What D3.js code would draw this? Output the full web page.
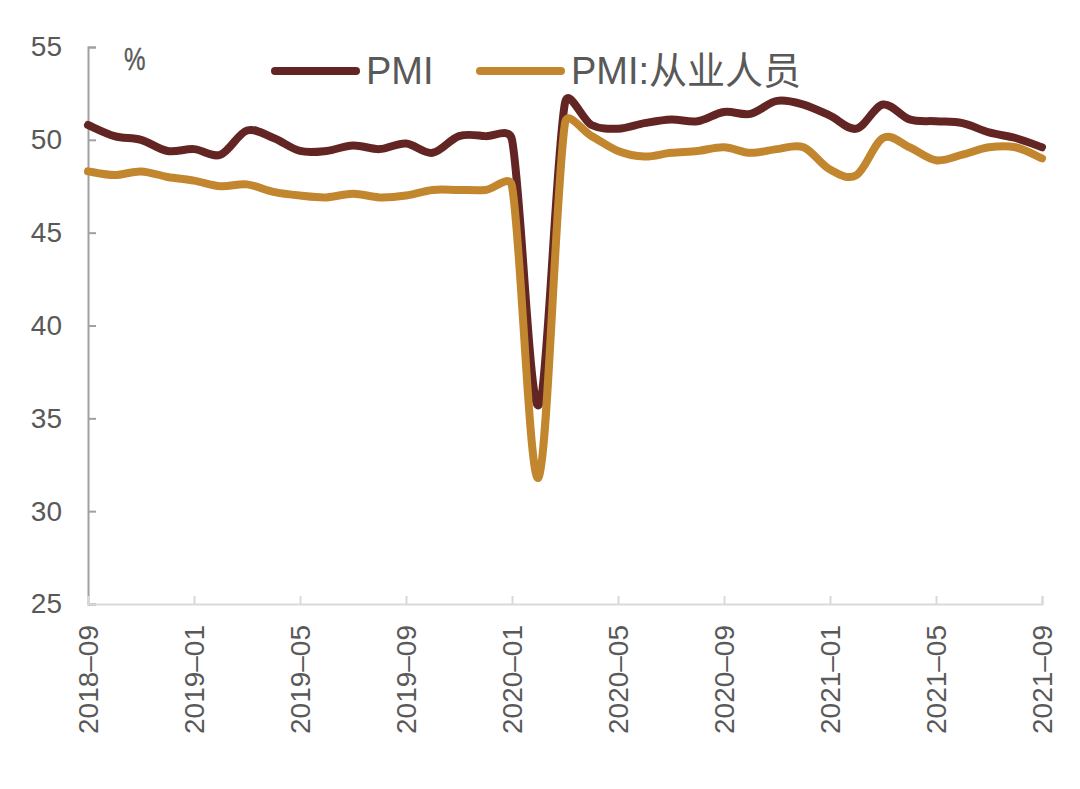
<!DOCTYPE html>
<html><head><meta charset="utf-8">
<script src="https://cdn.jsdelivr.net/npm/d3@7"></script>
<style>
html,body{margin:0;padding:0;background:#fff;}
text{font-family:"Liberation Sans",Arial,"Noto Sans CJK SC",sans-serif;fill:#595959;}
</style></head>
<body>
<svg id="c" width="1080" height="789"></svg>
<script>
const months = ["2018-09","2018-10","2018-11","2018-12","2019-01","2019-02","2019-03","2019-04","2019-05","2019-06","2019-07","2019-08","2019-09","2019-10","2019-11","2019-12","2020-01","2020-02","2020-03","2020-04","2020-05","2020-06","2020-07","2020-08","2020-09","2020-10","2020-11","2020-12","2021-01","2021-02","2021-03","2021-04","2021-05","2021-06","2021-07","2021-08","2021-09"];
const pmi = [50.8,50.2,50.0,49.4,49.5,49.2,50.5,50.1,49.4,49.4,49.7,49.5,49.8,49.3,50.2,50.2,50.0,35.7,52.0,50.8,50.6,50.9,51.1,51.0,51.5,51.4,52.1,51.9,51.3,50.6,51.9,51.1,51.0,50.9,50.4,50.1,49.6];
const employ = [48.3,48.1,48.3,48.0,47.8,47.5,47.6,47.2,47.0,46.9,47.1,46.9,47.0,47.3,47.3,47.3,47.5,31.8,50.9,50.2,49.4,49.1,49.3,49.4,49.6,49.3,49.5,49.6,48.4,48.1,50.1,49.6,48.9,49.2,49.6,49.6,49.0];
const yTicks = [25,30,35,40,45,50,55];
const xTickLabels = ["2018-09","2019-01","2019-05","2019-09","2020-01","2020-05","2020-09","2021-01","2021-05","2021-09"];
const seriesNames = ["PMI","PMI:从业人员"];
const colors = ["#632523","#c2862f"];

// Excel-style smoothed curve (Bezier, 1/6 tangents clipped to half segment)
function ExcelSmooth(context){ this._context = context; }
ExcelSmooth.prototype = {
  areaStart(){}, areaEnd(){},
  lineStart(){ this._pts = []; },
  point(x,y){ this._pts.push([+x,+y]); },
  lineEnd(){
    const p = this._pts, n = p.length, c = this._context;
    if (!n) return;
    c.moveTo(p[0][0], p[0][1]);
    const dist=(a,b)=>Math.hypot(b[0]-a[0], b[1]-a[1]);
    for (let i=0;i<n-1;i++){
      const p0 = p[Math.max(i-1,0)], p1 = p[i], p2 = p[i+1], p3 = p[Math.min(i+2,n-1)];
      const d12 = dist(p1,p2), d02 = dist(p0,p2), d13 = dist(p1,p3);
      let f0 = 1/6, f1 = 1/6;
      if (d02/6 >= d12/2 && d02>0) f0 = d12/2/d02;
      if (d13/6 >= d12/2 && d13>0) f1 = d12/2/d13;
      const b1 = [p1[0]+(p2[0]-p0[0])*f0, p1[1]+(p2[1]-p0[1])*f0];
      const b2 = [p2[0]-(p3[0]-p1[0])*f1, p2[1]-(p3[1]-p1[1])*f1];
      c.bezierCurveTo(b1[0],b1[1],b2[0],b2[1],p2[0],p2[1]);
    }
  }
};
const curveExcel = ctx => new ExcelSmooth(ctx);

const svg = d3.select("#c");
const L=88, R=1042, T=47, B=604;
const x = d3.scalePoint().domain(months).range([L,R]);
const y = d3.scaleLinear().domain([25,55]).range([B,T]);

// y axis
const ya = svg.append("g").attr("transform",`translate(${L},0)`)
  .call(d3.axisLeft(y).tickValues(yTicks).tickSize(-8).tickPadding(26));
ya.select(".domain").attr("stroke","#a0a0a0").attr("stroke-width",2);
ya.selectAll(".tick line").attr("stroke","#a0a0a0").attr("stroke-width",2);
ya.selectAll(".tick text").style("font-size","28px").attr("fill","#595959");

// x axis
const xa = svg.append("g").attr("transform",`translate(0,${B})`)
  .call(d3.axisBottom(x).tickValues(xTickLabels).tickSize(-8).tickFormat(d=>d.replace("-","–")));
xa.select(".domain").attr("stroke","#d9d9d9").attr("stroke-width",2);
xa.selectAll(".tick line").attr("stroke","#d9d9d9").attr("stroke-width",2);
xa.selectAll(".tick text").style("font-size","28px").attr("fill","#595959")
  .attr("transform","rotate(-90)").attr("text-anchor","end")
  .attr("x",-21).attr("y",0).attr("dy","0.35em");

// % label
svg.append("text").attr("transform","translate(124,70) scale(0.78,1)")
  .style("font-size","31px").style("stroke","#595959").style("stroke-width","0.4").text("%");

// lines
const line = d3.line().x((d,i)=>x(months[i])).y(d=>y(d)).curve(curveExcel);
[pmi, employ].forEach((s,k)=>{
  svg.append("path").datum(s).attr("d",line).attr("fill","none")
    .attr("stroke",colors[k]).attr("stroke-width",8).attr("stroke-linejoin","round").attr("stroke-linecap","round");
});

// legend
const legX = [275, 480];
seriesNames.forEach((n,k)=>{
  svg.append("line").attr("x1",legX[k]).attr("x2",legX[k]+81).attr("y1",71).attr("y2",71)
    .attr("stroke",colors[k]).attr("stroke-width",8).attr("stroke-linecap","round");
  svg.append("text").attr("x",legX[k]+91).attr("y",84).style("font-size","38px").text(n);
});
</script>
</body></html>
